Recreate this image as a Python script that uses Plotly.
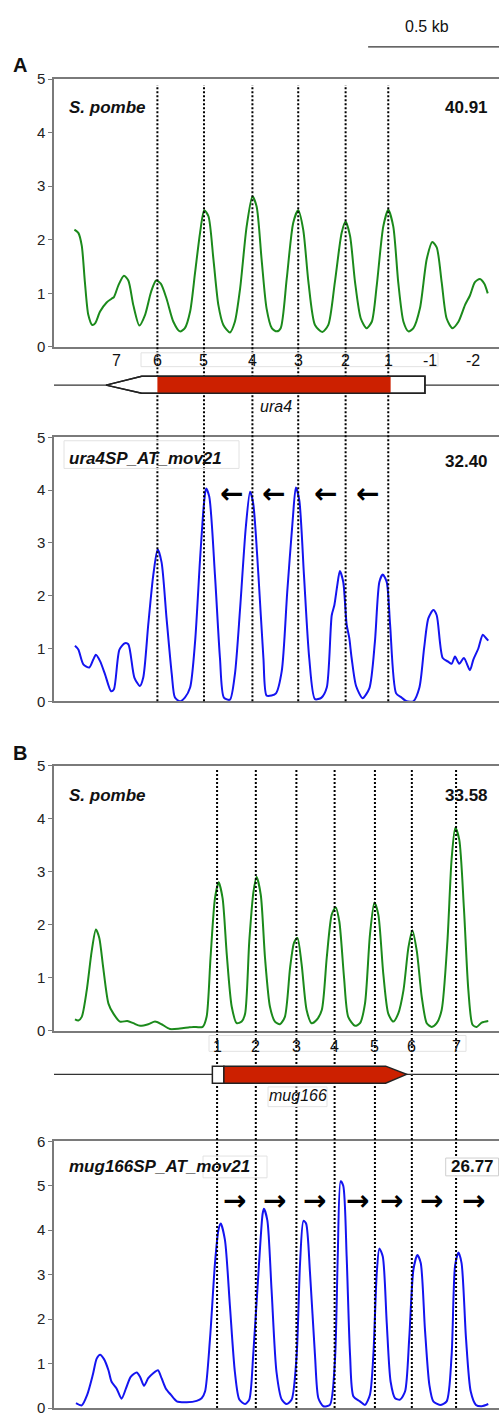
import plotly.graph_objects as go

# ---------------- data (positions in bp from left edge of panel, occupancy values) ----------------
ura4_sp_pos = [78,93,106,118,131,146,157,176,201,220,229,246,267,284,303,326,348,371,390,408,430,456,481,500,520,539,558,574,590,609,628,647,672,691,711,736,758,774,793,812,832,851,866,889,914,933,952,972,997,1025,1048,1073,1099,1114,1131,1150,1172,1194,1214,1233,1258,1277,1296,1315,1335,1354,1373,1398,1424,1445,1462,1481,1500,1522,1545,1570,1589,1608,1627,1644,1657]
ura4_sp_occ = [2.19,2.13,1.89,1.21,0.6,0.41,0.44,0.66,0.83,0.9,0.93,1.15,1.33,1.24,0.78,0.40,0.6,1.03,1.24,1.18,0.9,0.47,0.29,0.35,0.66,1.39,2.13,2.55,2.44,1.64,0.78,0.41,0.27,0.47,1.09,2.25,2.81,2.62,1.64,0.72,0.35,0.29,0.35,1.27,2.32,2.55,2.19,1.21,0.41,0.28,0.41,1.21,2.13,2.34,2.07,1.21,0.53,0.35,0.47,1.15,2.25,2.56,2.25,1.21,0.47,0.29,0.35,0.72,1.64,1.96,1.86,1.21,0.53,0.35,0.47,0.78,0.96,1.21,1.27,1.18,1.0]

ura4_at_pos = [80,93,112,135,150,160,176,195,218,229,250,271,284,307,328,341,360,379,396,411,430,450,462,481,500,520,539,558,573,581,593,615,634,649,672,691,711,733,749,761,781,800,812,831,848,870,891,912,924,937,955,975,997,1022,1042,1061,1071,1082,1092,1105,1118,1128,1137,1154,1179,1205,1226,1243,1256,1271,1284,1307,1328,1347,1373,1396,1414,1430,1449,1462,1485,1506,1519,1532,1548,1566,1589,1602,1621,1638,1650,1659]
ura4_at_occ = [1.05,0.98,0.7,0.64,0.79,0.88,0.76,0.51,0.19,0.23,0.98,1.1,1.08,0.45,0.29,0.45,1.45,2.38,2.88,2.63,1.57,0.51,0.07,0.0,0.07,0.26,1.13,2.69,3.75,4.03,3.88,2.38,0.82,0.07,0.03,0.51,1.76,3.31,3.97,3.75,2.38,0.82,0.11,0.11,0.15,0.57,2.07,3.44,4.05,3.81,2.38,0.82,0.04,0.07,0.26,1.63,1.82,2.19,2.47,2.26,1.45,1.2,0.82,0.29,0.06,0.25,1.13,2.26,2.4,2.26,1.45,0.15,0.07,0.0,0.0,0.26,1.01,1.57,1.73,1.63,0.82,0.75,0.71,0.85,0.71,0.82,0.59,0.79,1.0,1.26,1.2,1.15]

mug_sp_pos = [80,93,106,125,144,160,173,188,208,227,252,280,303,329,360,386,411,443,481,513,532,568,583,598,615,629,644,660,679,698,717,730,746,762,774,790,806,825,844,863,882,902,917,930,946,965,984,1003,1023,1042,1061,1076,1090,1108,1124,1150,1169,1188,1207,1224,1239,1258,1277,1296,1315,1335,1354,1369,1386,1405,1424,1443,1462,1481,1503,1519,1533,1548,1566,1583,1599,1615,1634,1659]
mug_sp_occ = [0.21,0.19,0.26,0.76,1.5,1.91,1.75,1.19,0.51,0.32,0.17,0.18,0.14,0.09,0.12,0.17,0.12,0.03,0.04,0.06,0.07,0.07,0.26,1.38,2.5,2.8,2.5,1.44,0.45,0.14,0.17,0.32,1.69,2.62,2.9,2.56,1.38,0.45,0.17,0.12,0.26,1.19,1.66,1.75,1.25,0.39,0.14,0.2,0.39,1.38,2.19,2.33,2.06,1.0,0.26,0.09,0.14,0.51,1.81,2.42,2.19,1.07,0.32,0.17,0.32,0.76,1.57,1.89,1.5,0.63,0.14,0.07,0.14,0.39,1.69,3.24,3.83,3.61,2.31,0.76,0.11,0.07,0.15,0.18]

mug_at_pos = [84,106,127,148,163,176,191,208,220,239,258,275,293,316,329,344,360,379,397,411,427,446,469,507,545,564,577,596,615,628,637,653,672,691,708,730,746,761,781,797,802,815,831,850,870,889,908,927,940,953,963,978,997,1010,1029,1054,1073,1084,1095,1105,1118,1131,1144,1169,1188,1207,1220,1233,1243,1256,1271,1286,1303,1322,1341,1357,1373,1388,1401,1417,1434,1449,1475,1500,1519,1532,1545,1557,1574,1592,1612,1634,1659]
mug_at_occ = [0.11,0.06,0.3,0.74,1.11,1.2,1.1,0.85,0.59,0.44,0.21,0.44,0.7,0.8,0.7,0.5,0.67,0.78,0.85,0.67,0.44,0.3,0.15,0.13,0.16,0.22,0.37,1.56,3.26,4.0,4.15,3.78,2.3,0.81,0.19,0.09,0.19,1.19,3.04,4.37,4.48,4.22,2.67,0.81,0.19,0.09,0.19,1.19,3.26,4.21,4.15,3.04,1.19,0.22,0.04,0.07,1.04,3.41,5.1,5.0,3.41,1.19,0.26,0.15,0.07,0.3,1.19,3.04,3.59,3.41,1.93,0.59,0.22,0.19,0.37,1.56,3.11,3.44,3.26,1.78,0.52,0.15,0.07,0.15,1.19,3.19,3.5,3.26,1.56,0.37,0.07,0.04,0.09]

# nucleosome labels and positions (bp)
ura4_nuc_labels = ["7", "6", "5", "4", "3", "2", "1", "-1", "-2"]
ura4_nuc_pos = [240, 395, 573, 758, 933, 1114, 1277, 1436, 1601]
ura4_dotted = ["6", "5", "4", "3", "2", "1"]
mug_nuc_labels = ["1", "2", "3", "4", "5", "6", "7"]
mug_nuc_pos = [623, 771, 926, 1072, 1226, 1367, 1536]

# gene models (bp)
ura4_gene = dict(tip=199, utr5_start=335, cds_start=395, cds_end=1286, end=1417, name="ura4", label_pos=848)
mug_gene = dict(start=605, cds_start=649, body_end=1267, tip=1347, name="mug166", label_pos=932)

# directional arrows (bp, occupancy height)
ura4_arrow_pos = [679, 840, 1039, 1198]
ura4_arrow_y = 3.93
mug_arrow_pos = [691, 844, 997, 1160, 1290, 1443, 1604]
mug_arrow_y = 4.67

panel_names = ["S. pombe", "ura4SP_AT_mov21", "S. pombe", "mug166SP_AT_mov21"]
panel_scores = ["40.91", "32.40", "33.58", "26.77"]
x_range = [0, 1700]
scale_bar = [1200, 1700]  # 0.5 kb

# ---------------- layout helpers ----------------
W, H = 499, 1417
def Y(p):
    return 1 - p / H
def X(p):
    return p / W

FONT = "Liberation Sans, Arial, sans-serif"
AXC = "#7a7a7a"
GREEN = "#1b8a1b"
BLUE = "#1414f0"
RED = "#cc2000"
TXT = "#111"

fig = go.Figure()
series = [(ura4_sp_pos, ura4_sp_occ, GREEN), (ura4_at_pos, ura4_at_occ, BLUE),
          (mug_sp_pos, mug_sp_occ, GREEN), (mug_at_pos, mug_at_occ, BLUE)]
for i, (xs, ys, c) in enumerate(series, start=1):
    fig.add_trace(go.Scatter(x=xs, y=ys, mode="lines",
                             line=dict(color=c, width=2, shape="spline", smoothing=0.7),
                             xaxis=f"x{i}" if i > 1 else "x", yaxis=f"y{i}" if i > 1 else "y",
                             showlegend=False, hoverinfo="skip"))

domains = [(342, 71), (700.7, 433.5), (1034, 766), (1416, 1146)]
yranges = [[0, 5], [0, 5], [0, 5], [0, 6]]
layout = dict(width=W, height=H, margin=dict(l=0, r=0, t=0, b=0),
              paper_bgcolor="white", plot_bgcolor="white", showlegend=False,
              font=dict(family=FONT, color=TXT))
for i in range(1, 5):
    sx = "" if i == 1 else str(i)
    bot, top = domains[i - 1]
    layout[f"xaxis{sx}"] = dict(domain=[54 / W, 1], range=x_range, showticklabels=False, ticks="",
                                showgrid=False, zeroline=False, showline=True, mirror=True,
                                linecolor=AXC, linewidth=1.5, anchor=f"y{sx}", fixedrange=True)
    r = yranges[i - 1]
    layout[f"yaxis{sx}"] = dict(domain=[Y(bot), Y(top)], range=r, tickvals=list(range(r[0], r[1] + 1)),
                                ticks="outside", ticklen=4, tickcolor=AXC, tickwidth=1,
                                showgrid=False, zeroline=False, showline=True, linecolor=AXC,
                                linewidth=1.5, anchor=f"x{sx}", tickfont=dict(size=15, family=FONT, color="#222"),
                                fixedrange=True)
fig.update_layout(**layout)

shapes = []
ann = []
DOT = dict(color="black", width=2, dash="2px,2px")

def text(t, x, y, xref="paper", yref="paper", size=16, xanchor="center", family=FONT, color=TXT):
    return dict(text=t, xref=xref, yref=yref, x=x, y=y, showarrow=False, xanchor=xanchor, yanchor="middle",
                font=dict(size=size, family=family, color=color))

# dotted lines
for lab, pos in zip(ura4_nuc_labels, ura4_nuc_pos):
    if lab in ura4_dotted:
        shapes.append(dict(type="line", xref="x", yref="paper", x0=pos, x1=pos, y0=Y(700.7), y1=Y(77), line=DOT, layer="above"))
for pos in mug_nuc_pos:
    shapes.append(dict(type="line", xref="x", yref="paper", x0=pos, x1=pos, y0=Y(1416), y1=Y(769), line=DOT, layer="above"))

# gene A (ura4, minus strand)
gm, gt, gb = Y(380.7), Y(371.7), Y(389)
g = ura4_gene
shapes.append(dict(type="line", xref="x", yref="paper", x0=x_range[0], x1=x_range[1], y0=gm, y1=gm, line=dict(color="#333", width=1.2)))
outlineA = f"M {g['utr5_start']},{gt} L {g['end']},{gt} L {g['end']},{gb} L {g['utr5_start']},{gb} L {g['tip']},{gm} Z"
shapes.append(dict(type="path", xref="x", yref="paper", path=outlineA, fillcolor="white", line=dict(color="#222", width=1.5)))
shapes.append(dict(type="rect", xref="x", yref="paper", x0=g["cds_start"], x1=g["cds_end"], y0=gb, y1=gt, fillcolor=RED, line=dict(width=0)))
shapes.append(dict(type="path", xref="x", yref="paper", path=outlineA, fillcolor="rgba(0,0,0,0)", line=dict(color="#222", width=1.5)))

# gene B (mug166, plus strand)
gm, gt, gb = Y(1078.3), Y(1070), Y(1087.3)
g = mug_gene
shapes.append(dict(type="line", xref="x", yref="paper", x0=x_range[0], x1=x_range[1], y0=gm, y1=gm, line=dict(color="#333", width=1.2)))
shapes.append(dict(type="rect", xref="x", yref="paper", x0=g["start"], x1=g["cds_start"], y0=gb, y1=gt, fillcolor="white", line=dict(color="#222", width=1.5)))
pathB = f"M {g['cds_start']},{gt} L {g['body_end']},{gt} L {g['tip']},{gm} L {g['body_end']},{gb} L {g['cds_start']},{gb} Z"
shapes.append(dict(type="path", xref="x", yref="paper", path=pathB, fillcolor=RED, line=dict(color="#222", width=1.5)))

# faint label boxes
FAINT = dict(color="#e2e2e2", width=1)
for (x0, y0, x1, y1) in [(141, 348, 438, 362), (209, 1039, 466, 1055), (268, 1091, 327, 1111),
                         (64, 437, 239, 465), (203, 1161, 267, 1183)]:
    shapes.append(dict(type="rect", xref="paper", yref="paper", x0=X(x0), x1=X(x1), y0=Y(y1), y1=Y(y0), line=FAINT))
shapes.append(dict(type="rect", xref="paper", yref="paper", x0=X(445.7), x1=X(498.5), y0=Y(1181), y1=Y(1163),
                   line=dict(color="#cfcfcf", width=1), fillcolor="white"))

# scale bar
shapes.append(dict(type="line", xref="x", yref="paper", x0=scale_bar[0], x1=scale_bar[1], y0=Y(38.3), y1=Y(38.3), line=dict(color="#333", width=1.2)))
ann.append(text("0.5 kb", 1424, Y(18), xref="x", size=16))

# nucleosome number labels
for lab, pos in zip(ura4_nuc_labels, ura4_nuc_pos):
    ann.append(text(lab, pos, Y(356), xref="x", size=16))
for lab, pos in zip(mug_nuc_labels, mug_nuc_pos):
    ann.append(text(lab, pos, Y(1050), xref="x", size=16))

# gene names
ann.append(text("<i>" + ura4_gene["name"] + "</i>", ura4_gene["label_pos"], Y(402.7), xref="x", size=16))
ann.append(text("<i>" + mug_gene["name"] + "</i>", mug_gene["label_pos"], Y(1100), xref="x", size=16))

# panel labels & scores
name_y = [100, 455, 796, 1172]
score_y = [100, 458, 796, 1172]
for i in range(4):
    ann.append(text("<b><i>" + panel_names[i] + "</i></b>", X(67), Y(name_y[i]), size=17, xanchor="left"))
    if i < 3:
        ann.append(text("<b>" + panel_scores[i] + "</b>", X(490), Y(score_y[i]), size=17, xanchor="right"))
    else:
        ann.append(text("<b>" + panel_scores[i] + "</b>", X(472), Y(score_y[i]), size=17))

# section letters
ann.append(text("<b>A</b>", X(20), Y(57), size=20))
ann.append(text("<b>B</b>", X(20), Y(753), size=20))

# direction arrows
for p in ura4_arrow_pos:
    ann.append(text("<b>\u2190</b>", p, ura4_arrow_y, xref="x2", yref="y2", size=28, family="DejaVu Sans", color="black"))
for p in mug_arrow_pos:
    ann.append(text("<b>\u2192</b>", p, mug_arrow_y, xref="x4", yref="y4", size=28, family="DejaVu Sans", color="black"))

fig.update_layout(shapes=shapes, annotations=ann)
fig.write_html("out.html")
